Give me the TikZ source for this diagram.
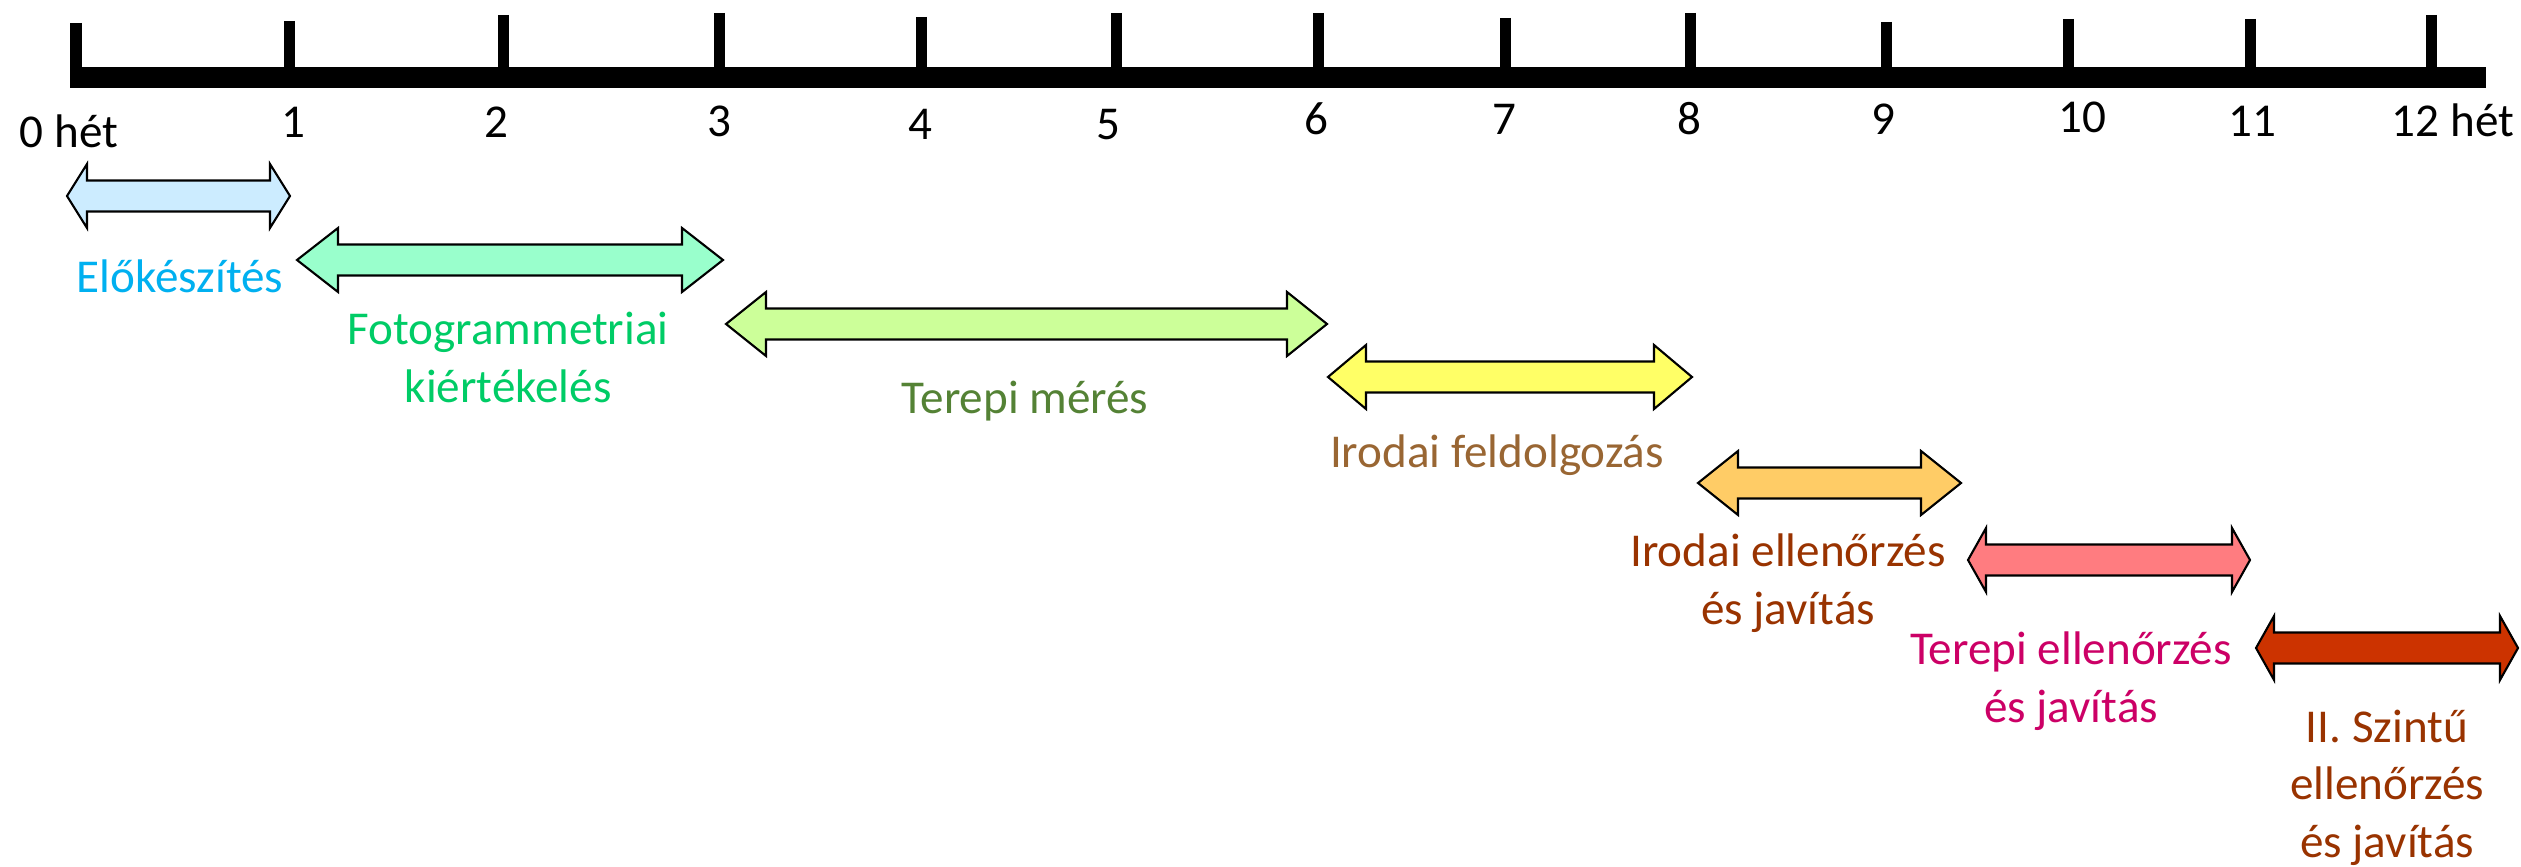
\documentclass[tikz,border=0pt]{standalone}
\usepackage{fontspec}
\setmainfont{Carlito}
\definecolor{cElo}{HTML}{00B0F0}
\definecolor{cFoto}{HTML}{00CC66}
\definecolor{cTer}{HTML}{548235}
\definecolor{cIrf}{HTML}{996633}
\definecolor{cIre}{HTML}{993300}
\definecolor{cTee}{HTML}{CC0066}
\definecolor{aA}{HTML}{CCECFF}
\definecolor{aB}{HTML}{99FFCC}
\definecolor{aC}{HTML}{CCFF99}
\definecolor{aD}{HTML}{FFFF66}
\definecolor{aE}{HTML}{FFCC66}
\definecolor{aF}{HTML}{FF7C80}
\definecolor{aG}{HTML}{CC3300}
\tikzset{
  lbl/.style={font=\fontsize{13.4pt}{16.35pt}\selectfont, inner sep=0pt, anchor=base, align=center},
  arrowbox/.style={draw=black, line width=0.6pt, line join=miter},
  axisbar/.style={line width=0.21cm},
  axistick/.style={line width=0.11cm},
}
\newcommand\dblarr[6]{%
  \draw[arrowbox, fill=#6] (#2,#4) -- (#2+#5,#4-32) -- (#2+#5,#4-15.5) -- (#3-#5,#4-15.5) -- (#3-#5,#4-32) -- (#3,#4)
     -- (#3-#5,#4+32) -- (#3-#5,#4+15.5) -- (#2+#5,#4+15.5) -- (#2+#5,#4+32) -- cycle;
  \coordinate (#1) at ({(#2+#3)/2},#4);}
\begin{document}
\begin{tikzpicture}[x=0.01cm, y=-0.01cm]
\useasboundingbox (0,0) rectangle (2521,867);
\fill[white] (0,0) rectangle (2521,867);
% axis
\coordinate (axL) at (70,77.5);
\coordinate (axR) at (2486,77.5);
\draw[axisbar] (axL) -- (axR);
\foreach \x/\t [count=\i from 0] in {76/23,289/21,503/15,719/13,921/17,1116/13,1318/13,1505/18,1690/13,1886/22,2068/19,2250/19,2431/15}{
  \coordinate (tt\i) at (\x,\t);
  \coordinate (tb\i) at (\x,83);
  \draw[axistick] (tt\i) -- (tb\i);
}
% tick labels
\node[lbl] (l0) at (69,148) {0 hét};
\node[lbl] (l1) at (293,138) {1};
\node[lbl] (l2) at (496,138) {2};
\node[lbl] (l3) at (719,137) {3};
\node[lbl] (l4) at (920,140) {4};
\node[lbl] (l5) at (1108,140) {5};
\node[lbl] (l6) at (1316,135) {6};
\node[lbl] (l7) at (1504,135) {7};
\node[lbl] (l8) at (1689,135) {8};
\node[lbl] (l9) at (1883,135) {9};
\node[lbl] (l10) at (2082,133) {10};
\node[lbl] (l11) at (2252,137) {11};
\node[lbl] (l12) at (2453,137) {12 hét};
% arrows
\dblarr{arA}{67}{290}{196}{20}{aA}
\dblarr{arB}{297}{723}{260}{41}{aB}
\dblarr{arC}{726}{1327}{324}{40}{aC}
\dblarr{arD}{1328}{1692}{377}{38}{aD}
\dblarr{arE}{1698}{1961}{483}{40}{aE}
\dblarr{arF}{1968}{2250}{560}{18}{aF}
\dblarr{arG}{2256}{2518}{648}{18}{aG}
% labels (multi-line nodes: base anchor = last line's baseline)
\node[lbl, text=cElo] (tA) at (180,292) {Előkészítés};
\node[lbl, text=cFoto] (tB) at (508,402) {Fotogrammetriai\\kiértékelés};
\node[lbl, text=cTer] (tC) at (1025,413) {Terepi mérés};
\node[lbl, text=cIrf] (tD) at (1497,467) {Irodai feldolgozás};
\node[lbl, text=cIre] (tE) at (1788,624) {Irodai ellenőrzés\\és javítás};
\node[lbl, text=cTee] (tF) at (2071,722) {Terepi ellenőrzés\\és javítás};
\node[lbl, text=cIre] (tG) at (2387,857) {II. Szintű\\ellenőrzés\\és javítás};
\end{tikzpicture}
\end{document}
